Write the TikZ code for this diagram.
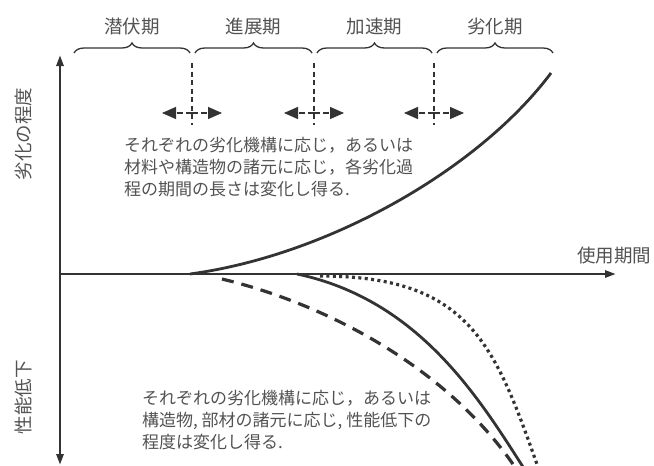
\documentclass[tikz,border=0pt]{standalone}
\usepackage{fontspec}
\setmainfont{Noto Sans CJK JP}
\usetikzlibrary{arrows.meta,decorations.pathreplacing}
\definecolor{ink}{HTML}{333333}
\tikzset{
    axis/.style={line width=2.6pt,draw=ink},
    curve/.style={line width=2.8pt,draw=ink},
    bound/.style={line width=1.4pt,draw=ink,dash pattern=on 5pt off 3.5pt},
    spread/.style={line width=1.3pt,draw=ink,dash pattern=on 6pt off 3pt,
        -{Triangle[length=14pt,width=12pt]}},
    phase/.style={line width=1.3pt,draw=ink,
        decorate,decoration={brace,amplitude=10pt}},
    axlabel/.style={font=\fontsize{18.5}{22}\selectfont,text=ink!85},
    note/.style={font=\fontsize{17}{21.6}\selectfont,text=ink!85,
        align=left,anchor=west,inner sep=0pt}
}
\begin{document}
\begin{tikzpicture}[x=1pt,y=-1pt]
        \useasboundingbox (0,0) rectangle (654,466);
        \clip (0,0) rectangle (654,466);
        % axes
        \draw[axis,{Triangle[length=11pt,width=7pt]}-{Triangle[length=11pt,width=7pt]}]
            (60,465) -- (60,55);
        \draw[axis,-{Triangle[length=11pt,width=7pt]}] (60,274) -- (616,274);
        \node[axlabel] (tt) at (614,255) {使用期間};
        \node[axlabel,rotate=90] (deg) at (23,134) {劣化の程度};
        \node[axlabel,rotate=90] (perf) at (23,397) {性能低下};
        % phases
        \draw[phase] (74,53) -- (190,53) node[midway,above=14pt,axlabel] (p1) {潜伏期};
        \draw[phase] (195,53) -- (312,53) node[midway,above=14pt,axlabel] (p2) {進展期};
        \draw[phase] (317,53) -- (432,53) node[midway,above=14pt,axlabel] (p3) {加速期};
        \draw[phase] (437,53) -- (553,53) node[midway,above=14pt,axlabel] (p4) {劣化期};
        \foreach \x in {192,314,434} {
            \draw[bound] (\x,63) -- (\x,125);
            \draw[spread] (\x,113) -- (\x-30,113);
            \draw[spread] (\x,113) -- (\x+30,113);
        }
        % deterioration
        \draw[curve] (190,274) .. controls (330,255) and (480,168) .. (551,73);
        % performance
        \draw[curve] (297,274) .. controls (420,300) and (480,400) .. (525,470);
        \draw[curve,line width=3.2pt,dash pattern=on 12pt off 8pt]
            (222,279) .. controls (330,305) and (450,370) .. (517,470);
        \draw[curve,line width=3.2pt,dash pattern=on 3pt off 3.4pt]
            (320,276) .. controls (470,276) and (495,345) .. (539,470);
        \node[note] (n1) at (124,167)
            {それぞれの劣化機構に応じ，あるいは\\材料や構造物の諸元に応じ，各劣化過\\程の期間の長さは変化し得る.};
        \node[note] (n2) at (142,420)
            {それぞれの劣化機構に応じ，あるいは\\構造物, 部材の諸元に応じ, 性能低下の\\程度は変化し得る.};
    \end{tikzpicture}
\end{document}
